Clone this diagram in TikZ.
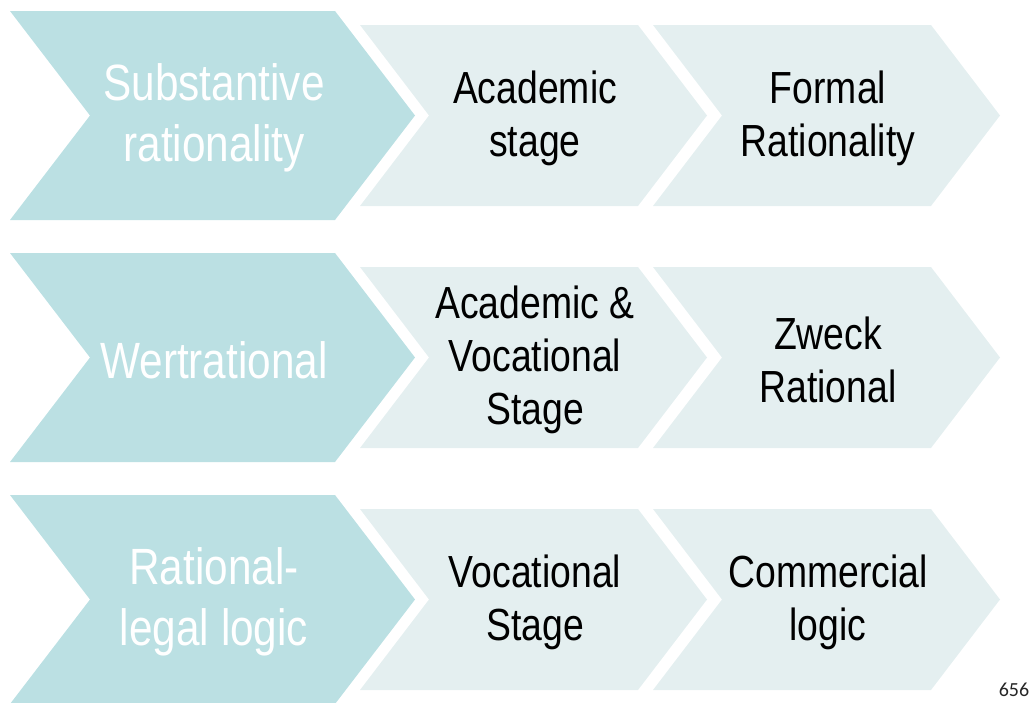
\documentclass[tikz,border=0pt]{standalone}
\usepackage{fontspec}
\setmainfont[FakeStretch=0.83]{Liberation Sans}
\newfontfamily\pagefont{Carlito}
\usepackage{xcolor}
\usepackage{tikz}

\definecolor{chevdark}{RGB}{187,224,227}
\definecolor{chevlight}{RGB}{228,239,240}

\tikzset{
    bigfill/.style={fill=chevdark},
    smallfill/.style={fill=chevlight},
    bigtext/.style={text=white, align=center, font=\fontsize{51}{61}\selectfont},
    smalltext/.style={text=black, align=center, font=\fontsize{45}{53}\selectfont},
}

% chevron shapes, one row
\newcommand{\bigchev}{\fill[bigfill] (10,11) -- (335,11) -- (415,115.5) -- (335,220) -- (10,220) -- (90,115.5) -- cycle;}
\newcommand{\smallchev}[1]{\fill[smallfill, xshift=#1] (360,25) -- (638,25) -- (707,115.5) -- (638,206) -- (360,206) -- (429,115.5) -- cycle;}

\begin{document}
\begin{tikzpicture}[x=1pt, y=-1pt]
    \useasboundingbox (0,0) rectangle (1033,702);

    % Riga 1
    \begin{scope}
        \bigchev \smallchev{0pt} \smallchev{293pt}
        \node[bigtext] (subst) at (214,118) {Substantive\\rationality};
        \node[smalltext] (acad) at (535,118) {Academic\\stage};
        \node[smalltext] (formal) at (828,118) {Formal\\Rationality};
    \end{scope}

    % Riga 2
    \begin{scope}[yshift=-242pt]
        \bigchev \smallchev{0pt} \smallchev{293pt}
        \node[bigtext] (wert) at (214,118) {Wertrational};
        \node[smalltext] (acadvoc) at (535,118) {Academic \&\\Vocational\\Stage};
        \node[smalltext] (zweck) at (828,118) {Zweck\\Rational};
    \end{scope}

    % Riga 3
    \begin{scope}[yshift=-484pt]
        \bigchev \smallchev{0pt} \smallchev{293pt}
        \node[bigtext] (legal) at (214,118) {Rational-\\legal logic};
        \node[smalltext] (voc) at (535,118) {Vocational\\Stage};
        \node[smalltext] (comm) at (828,118) {Commercial\\logic};
    \end{scope}

    \node[font=\pagefont\fontsize{20}{24}\selectfont, text=black!85] (pagenum) at (1014,690) {656};
\end{tikzpicture}
\end{document}
